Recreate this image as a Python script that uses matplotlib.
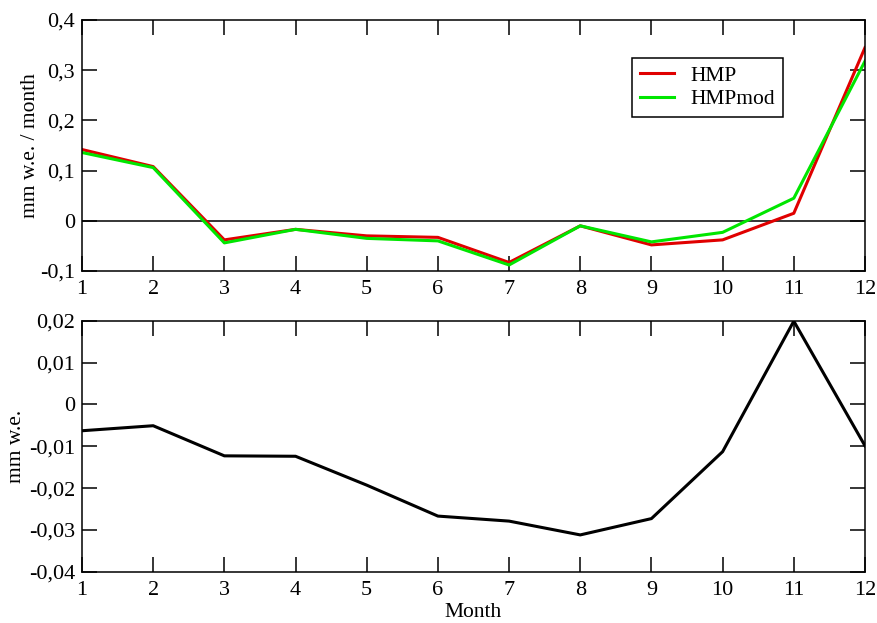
import matplotlib.pyplot as plt
from matplotlib.ticker import FuncFormatter


months = [1, 2, 3, 4, 5, 6, 7, 8, 9, 10, 11, 12]

hmp = [0.142, 0.108, -0.038, -0.017, -0.030, -0.033, -0.083, -0.010, -0.048, -0.038, 0.015, 0.345]
hmp_mod = [0.136, 0.106, -0.044, -0.017, -0.035, -0.040, -0.088, -0.010, -0.042, -0.023, 0.045, 0.318]

diff = [-0.0063, -0.0051, -0.0123, -0.0124, -0.0193, -0.0267, -0.0279, -0.0312, -0.0273, -0.0113, 0.0199, -0.0099]

top_yticks = [-0.1, 0, 0.1, 0.2, 0.3, 0.4]
bottom_yticks = [-0.04, -0.03, -0.02, -0.01, 0, 0.01, 0.02]

plt.rcParams["font.family"] = ["Liberation Serif", "DejaVu Serif"]
plt.rcParams["font.size"] = 15.5


def comma_fmt(v, pos):
    if abs(v) < 1e-12:
        return "0"
    s = ("%.2f" % v).rstrip("0")
    return s.replace(".", ",")


def style_axes(ax, yticks):
    ax.set_xlim(1, 12)
    ax.set_xticks(months)
    ax.set_ylim(yticks[0], yticks[-1])
    ax.set_yticks(yticks)
    ax.yaxis.set_major_formatter(FuncFormatter(comma_fmt))
    ax.tick_params(direction="in", length=11, width=1.1, top=True, right=True,
                   labelsize=16)
    ax.tick_params(axis="x", pad=6.5)
    ax.tick_params(axis="y", pad=5)
    for sp in ax.spines.values():
        sp.set_linewidth(1.1)


fig = plt.figure(figsize=(8.77, 6.23), dpi=100)

ax1 = fig.add_axes([0.0935, 0.565, 0.8928, 0.4029])
ax1.axhline(0, color="black", linewidth=1.1)
ax1.plot(months, hmp, color="#e00000", linewidth=2.2, label="HMP")
ax1.plot(months, hmp_mod, color="#00e600", linewidth=2.2, label="HMPmod")
style_axes(ax1, top_yticks)
ax1.set_ylabel("mm w.e. / month", labelpad=0)
ax1.legend(loc="upper left", bbox_to_anchor=(0.703, 0.847), fancybox=False,
           edgecolor="black", framealpha=1, borderaxespad=0, handlelength=1.6,
           handletextpad=0.75, labelspacing=0.15, borderpad=0.35)
ax1.get_legend().get_frame().set_linewidth(1.1)

ax2 = fig.add_axes([0.0935, 0.0823, 0.8928, 0.4029])
ax2.plot(months, diff, color="black", linewidth=2.2)
style_axes(ax2, bottom_yticks)
ax2.set_ylabel("mm w.e.", labelpad=2)
ax2.set_xlabel("Month", labelpad=2)

fig.savefig("out.png", dpi=100)
